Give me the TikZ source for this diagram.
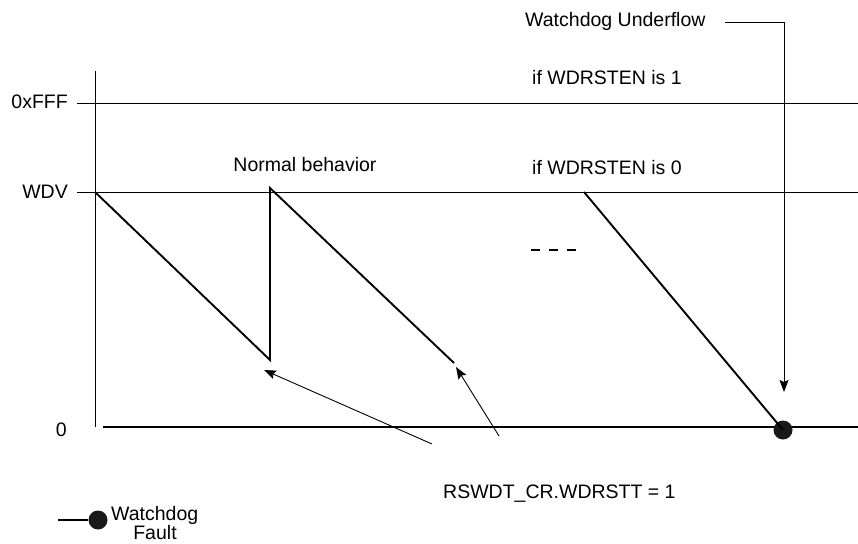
\documentclass[tikz,border=0pt]{standalone}
\usepackage{fontspec}
\setmainfont{Liberation Sans}
\usetikzlibrary{arrows.meta}
\tikzset{
  lbl/.style={inner sep=0pt, font=\fontsize{19.5}{23}\selectfont},
  level/.style={line width=0.9pt},
  ramp/.style={line width=1.9pt},
  pointer/.style={line width=0.9pt, -{Stealth[length=12pt,width=9pt,inset=2pt]}},
  faultdot/.style={circle, fill=black!90, inner sep=0pt, minimum size=19pt},
}
\begin{document}
\begin{tikzpicture}[x=1pt,y=-1pt]
  \useasboundingbox (0,0) rectangle (858,543);
  % axis and levels
  \coordinate (axtop) at (95,71);
  \coordinate (axbot) at (95,427);
  \draw[level] (axtop) -- (axbot);
  \coordinate (fffL) at (77,103);  \coordinate (fffR) at (858,103);
  \coordinate (wdvL) at (77,192);  \coordinate (wdvR) at (858,192);
  \coordinate (zeroL) at (103,427); \coordinate (zeroR) at (858,427);
  \draw[level] (fffL) -- (fffR);
  \draw[level] (wdvL) -- (wdvR);
  \draw[line width=2.4pt] (zeroL) -- (zeroR);
  \node[lbl, anchor=base east] (fff) at (68,108) {0xFFF};
  \node[lbl, anchor=base east] (wdv) at (68,198) {WDV};
  \node[lbl, anchor=base east] (zero) at (67,436) {0};
  % sawtooth
  \coordinate (r1a) at (95,192);
  \coordinate (r1b) at (270,360);
  \coordinate (r2a) at (270,188);
  \coordinate (r2b) at (454,363);
  \coordinate (r3a) at (584,192);
  \node[faultdot] (uflow) at (783,430) {};
  \draw[ramp] (r1a) -- (r1b) -- (r2a) -- (r2b);
  \draw[ramp] (r3a) -- (uflow.center);
  \foreach \x in {531,549,567} {
    \draw[line width=2.4pt] (\x,250) -- ++(9,0);
  }
  % texts
  \node[lbl, anchor=base] (normal) at (305,171) {Normal behavior};
  \node[lbl, anchor=base west] (en1) at (532,84) {if WDRSTEN is 1};
  \node[lbl, anchor=base west] (en0) at (532,174) {if WDRSTEN is 0};
  \node[lbl, anchor=base west] (under) at (525,27) {Watchdog Underflow};
  \node[lbl, anchor=base west] (rst) at (443,498) {RSWDT\_CR.WDRSTT = 1};
  % pointers
  \coordinate (ustart) at (725,22);
  \coordinate (ubend) at (784,22);
  \coordinate (uend) at (784,392);
  \draw[pointer] (ustart) -- (ubend) -- (uend);
  \coordinate (t1) at (432,444);
  \coordinate (t2) at (499,436);
  \draw[pointer] (t1) -- (264,370);
  \draw[pointer] (t2) -- (456,367);
  % legend
  \node[faultdot] (legdot) at (98,520) {};
  \coordinate (legL) at (58,520);
  \draw[line width=1.6pt] (legL) -- (legdot);
  \node[lbl, anchor=base west] (wd) at (111,520) {Watchdog};
  \node[lbl, anchor=base] (fault) at (155,539) {Fault};
\end{tikzpicture}
\end{document}
